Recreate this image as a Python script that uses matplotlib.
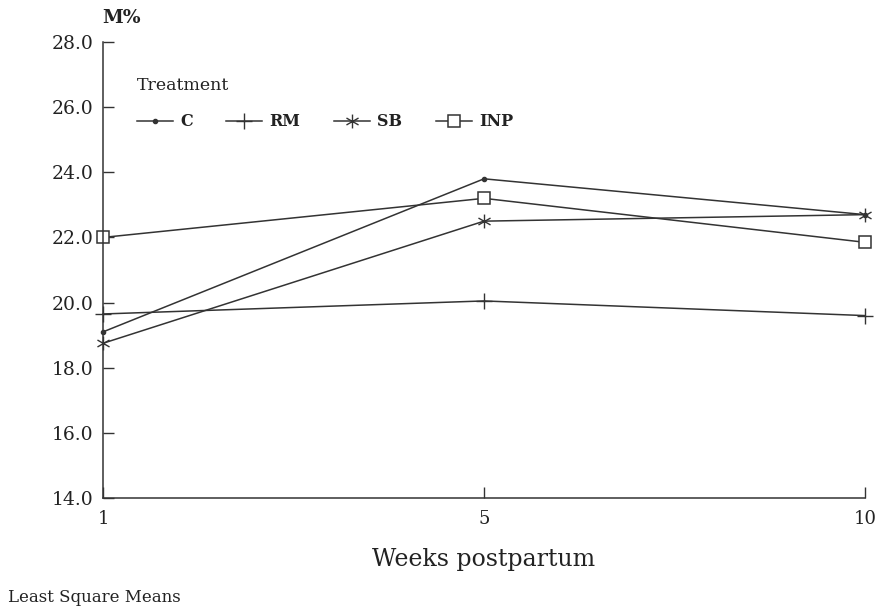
import matplotlib
matplotlib.use("Agg")
import matplotlib.pyplot as plt
from matplotlib.path import Path

weeks = ["1", "5", "10"]
c_vals = [19.1, 23.8, 22.7]
rm_vals = [19.65, 20.05, 19.6]
sb_vals = [18.75, 22.5, 22.7]
inp_vals = [22.0, 23.2, 21.85]
y_ticks = [14.0, 16.0, 18.0, 20.0, 22.0, 24.0, 26.0, 28.0]

plt.rcParams["font.family"] = ["DejaVu Serif"]
ink = "#333333"
text_ink = "#222222"

# six-armed asterisk for SB (vertical arm plus two diagonals)
star = Path(
    [(0, -1), (0, 1), (-0.87, -0.5), (0.87, 0.5), (-0.87, 0.5), (0.87, -0.5)],
    [Path.MOVETO, Path.LINETO, Path.MOVETO, Path.LINETO, Path.MOVETO, Path.LINETO],
)

fig = plt.figure(figsize=(8.85, 6.09), dpi=100)
ax = fig.add_axes([0.1164, 0.1823, 0.861, 0.7487])

x = list(range(len(weeks)))
style = dict(color=ink, linewidth=1.1, clip_on=False)
ax.plot(x, c_vals, marker="o", markersize=3, label="C", **style)
ax.plot(x, rm_vals, marker="+", markersize=11, markeredgewidth=1.0, label="RM", **style)
ax.plot(x, sb_vals, marker=star, markersize=10, markeredgewidth=1.0, label="SB", **style)
ax.plot(x, inp_vals, marker="s", markersize=8.5, markerfacecolor="white",
        markeredgewidth=1.1, label="INP", **style)

ax.set_xlim(0, 2)
ax.set_ylim(14, 28)
ax.set_xticks(x)
ax.set_xticklabels(weeks, fontsize=13)
ax.set_yticks(y_ticks)
ax.set_yticklabels([f"{v:.1f}" for v in y_ticks], fontsize=13.5)
ax.tick_params(axis="both", direction="in", length=8, width=1.0, color=ink, labelcolor=text_ink)
ax.tick_params(axis="x", pad=9)
ax.tick_params(axis="y", pad=7)
for side in ("top", "right"):
    ax.spines[side].set_visible(False)
for side in ("left", "bottom"):
    ax.spines[side].set_color(ink)
    ax.spines[side].set_linewidth(1.1)

ax.set_xlabel("Weeks postpartum", fontsize=17, color=text_ink, labelpad=14)
fig.text(102 / 885, 1 - 18 / 609, "M%", fontsize=13.5, fontweight="bold",
         color=text_ink, va="center")
fig.text(8 / 885, 1 - 597 / 609, "Least Square Means", fontsize=12,
         color=text_ink, va="center")
fig.text(137 / 885, 1 - 85 / 609, "Treatment", fontsize=12.5,
         color=text_ink, va="center")

leg = ax.legend(loc="center left", bbox_to_anchor=(137 / 885, 1 - 122 / 609),
                bbox_transform=fig.transFigure, ncol=4, frameon=False,
                borderpad=0, borderaxespad=0,
                handlelength=2.25, columnspacing=2.1, handletextpad=0.45,
                prop={"size": 11.5, "weight": "bold"})
for text in leg.get_texts():
    text.set_color(text_ink)

fig.savefig("out.png", dpi=100)
